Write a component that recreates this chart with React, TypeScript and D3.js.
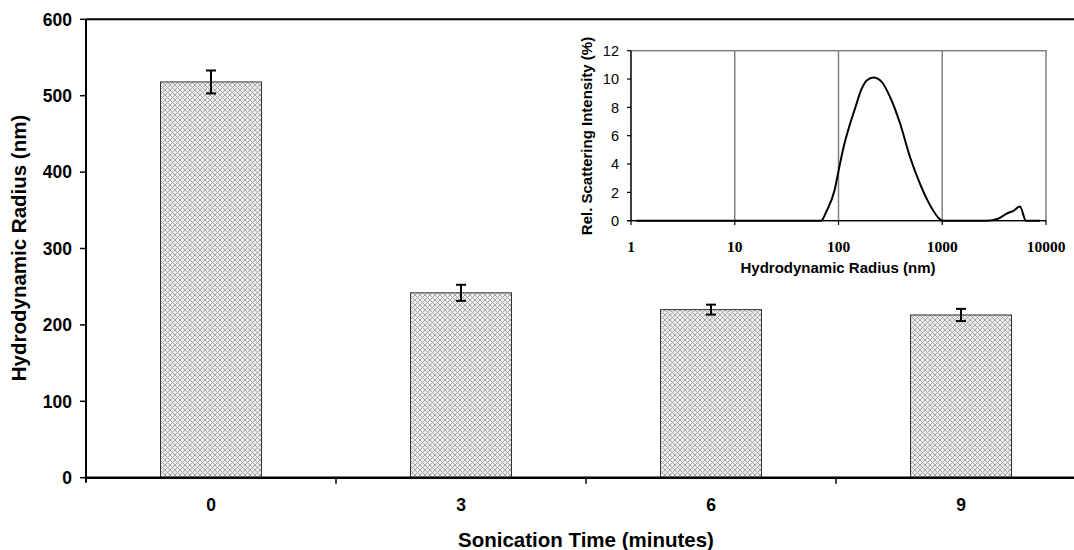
import React from "react";
import * as d3 from "d3";

const categories = ["0", "3", "6", "9"];
const radiusValues = [518, 242, 220, 213];
const radiusErrors = [15, 10.5, 6.5, 8];
const yTicks = [0, 100, 200, 300, 400, 500, 600];

const insetRadius = [1.13, 68, 77, 92, 100, 112, 124, 144, 167, 187, 217, 261, 313, 391, 489, 611, 762, 951, 1000, 2680, 3470, 4180, 4840, 5610, 6410, 8750];
const insetIntensity = [0, 0, 0.7, 2.2, 3.5, 5.2, 6.4, 7.9, 9.3, 9.9, 10.1, 9.8, 8.75, 6.9, 4.5, 2.6, 1.1, 0.1, 0, 0, 0.15, 0.5, 0.7, 1.0, 0, 0];
const insetXTicks = [1, 10, 100, 1000, 10000];
const insetYTicks = [0, 2, 4, 6, 8, 10, 12];

const W = 1074;
const H = 550;
const sans = "Arial, 'Liberation Sans', sans-serif";
const serif = "'Times New Roman', 'Liberation Serif', serif";

export default function App() {
  const x = d3.scaleBand<string>().domain(categories).range([86, 1086]).paddingInner(0.596).paddingOuter(0.298);
  const y = d3.scaleLinear().domain([0, 600]).range([477.7, 19.3]);

  const ix = d3.scaleLog().domain([1, 10000]).range([631, 1046]);
  const iy = d3.scaleLinear().domain([0, 12]).range([220.7, 50.7]);
  const pts = insetRadius.map((r, i) => [r, insetIntensity[i]] as [number, number]);
  const line = d3.line<[number, number]>().x(d => ix(d[0])).y(d => iy(d[1])).curve(d3.curveMonotoneX);

  const bw = x.bandwidth();
  const step = x.step();

  return (
    <svg width={W} height={H} style={{ position: "absolute", left: 0, top: 0, background: "#fff" }}>
      <defs>
        <pattern id="hatch" width="5" height="5" patternUnits="userSpaceOnUse">
          <rect width="5" height="5" fill="#ececec" />
          <path d="M0,0 L5,5 M5,0 L0,5" stroke="#a8a8a8" strokeWidth="1" />
        </pattern>
      </defs>
      <rect width={W} height={H} fill="#fff" />

      {/* main plot frame top */}
      <line x1={86} x2={1086} y1={y(600)} y2={y(600)} stroke="#000" strokeWidth={2} />

      {/* bars */}
      {categories.map((c, i) => (
        <rect key={c} x={x(c)} y={y(radiusValues[i])} width={bw} height={y(0) - y(radiusValues[i])}
          fill="url(#hatch)" stroke="#333" strokeWidth={1} />
      ))}
      {/* error bars */}
      {categories.map((c, i) => {
        const cx = (x(c) as number) + bw / 2;
        const t = y(radiusValues[i] + radiusErrors[i]);
        const b = y(radiusValues[i] - radiusErrors[i]);
        return (
          <g key={"e" + c} stroke="#000" strokeWidth={2}>
            <line x1={cx} x2={cx} y1={t} y2={b} />
            <line x1={cx - 5} x2={cx + 5} y1={t} y2={t} />
            <line x1={cx - 5} x2={cx + 5} y1={b} y2={b} />
          </g>
        );
      })}

      {/* y axis */}
      <line x1={86} x2={86} y1={y(600)} y2={y(0) + 5} stroke="#000" strokeWidth={2} />
      {yTicks.map(t => (
        <g key={t}>
          <line x1={80} x2={86} y1={y(t)} y2={y(t)} stroke="#000" strokeWidth={1.5} />
          <text x={72} y={y(t)} dy="0.36em" textAnchor="end" fontFamily={sans} fontWeight="bold" fontSize={17.5}>{t}</text>
        </g>
      ))}
      {/* x axis */}
      <line x1={86} x2={1086} y1={y(0)} y2={y(0)} stroke="#000" strokeWidth={2.5} />
      {categories.map((c, i) => (
        <g key={"x" + c}>
          {i > 0 && <line x1={86 + step * i} x2={86 + step * i} y1={y(0)} y2={y(0) + 6} stroke="#000" strokeWidth={1.5} />}
          <text x={(x(c) as number) + bw / 2} y={505} dy="0.36em" textAnchor="middle" fontFamily={sans} fontWeight="bold" fontSize={17.5}>{c}</text>
        </g>
      ))}
      <text x={586} y={540} dy="0.36em" textAnchor="middle" fontFamily={sans} fontWeight="bold" fontSize={20.5}>Sonication Time (minutes)</text>
      <text transform={`translate(19,248) rotate(-90)`} dy="0.36em" textAnchor="middle" fontFamily={sans} fontWeight="bold" fontSize={20.5}>Hydrodynamic Radius (nm)</text>

      {/* inset */}
      <rect x={631} y={50.7} width={1046 - 631} height={220.7 - 50.7} fill="#fff" stroke="#808080" strokeWidth={1.5} />
      {[10, 100, 1000].map(v => (
        <line key={v} x1={ix(v)} x2={ix(v)} y1={50.7} y2={220.7} stroke="#808080" strokeWidth={1.5} />
      ))}
      <path d={line(pts) || ""} fill="none" stroke="#000" strokeWidth={2} />
      <line x1={631} x2={631} y1={50.7} y2={220.7} stroke="#000" strokeWidth={1.2} />
      <line x1={627} x2={1046} y1={220.7} y2={220.7} stroke="#000" strokeWidth={1.2} />
      {insetYTicks.map(t => (
        <g key={"iy" + t}>
          <line x1={627} x2={631} y1={iy(t)} y2={iy(t)} stroke="#000" strokeWidth={1.2} />
          <text x={619} y={iy(t)} dy="0.36em" textAnchor="end" fontFamily={sans} fontSize={14.5}>{t}</text>
        </g>
      ))}
      {insetXTicks.map(t => (
        <g key={"ix" + t}>
          <line x1={ix(t)} x2={ix(t)} y1={220.7} y2={225} stroke="#000" strokeWidth={1.2} />
          <text x={ix(t)} y={246} dy="0.36em" textAnchor="middle" fontFamily={serif} fontWeight="bold" fontSize={15.5}>{t}</text>
        </g>
      ))}
      <text x={838} y={268} dy="0.36em" textAnchor="middle" fontFamily={sans} fontWeight="bold" fontSize={15}>Hydrodynamic Radius (nm)</text>
      <text transform={`translate(587,136) rotate(-90)`} dy="0.36em" textAnchor="middle" fontFamily={sans} fontWeight="bold" fontSize={15}>Rel. Scattering Intensity (%)</text>
    </svg>
  );
}
